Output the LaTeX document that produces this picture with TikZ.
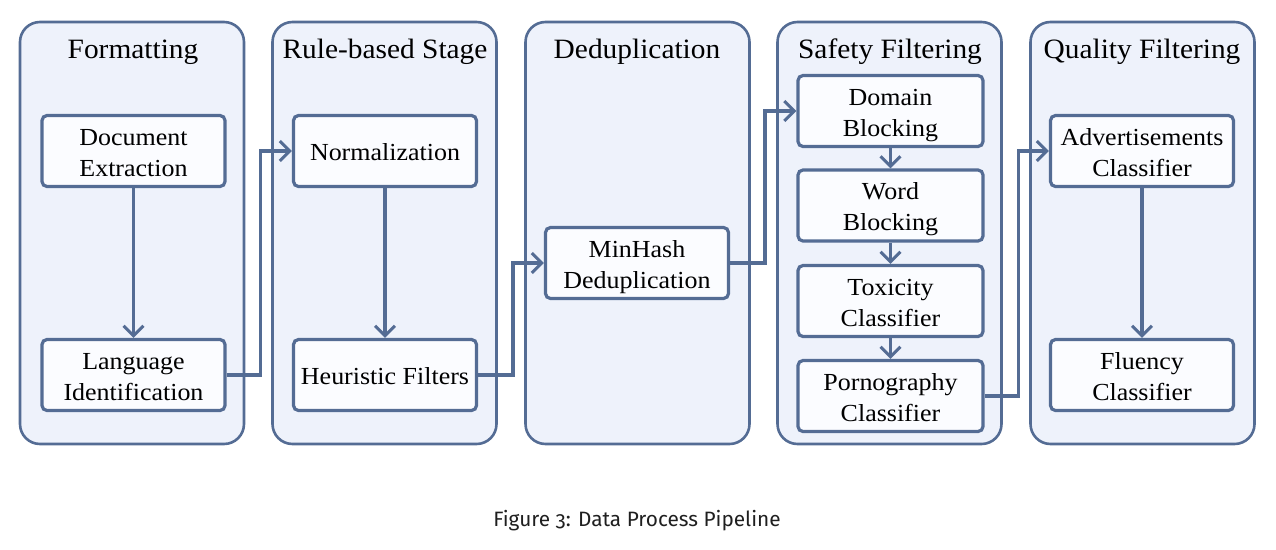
\documentclass[tikz,border=0pt]{standalone}
\usepackage{graphicx}
\usepackage{fontspec}
\setmainfont{Liberation Serif}
\newfontfamily\capfont[Numbers=OldStyle]{Fira Sans}
\usetikzlibrary{arrows.meta}
\definecolor{edge}{RGB}{84,108,148}
\definecolor{panelfill}{RGB}{238,242,251}
\definecolor{boxfill}{RGB}{251,252,255}
\newcommand\lbl[1]{\raisebox{-3.5pt}[\height][\depth]{\scalebox{1.06}[1]{\begin{tabular}{@{}c@{}}#1\end{tabular}}}}
\newcommand\ttl[1]{\scalebox{1.05}[1]{#1}}
\tikzset{
  panel/.style={draw=edge, line width=2.6pt, fill=panelfill, rounded corners=20pt,
    minimum width=224pt, minimum height=422pt, inner sep=0pt},
  stepbox/.style={draw=edge, line width=3.2pt, fill=boxfill, rounded corners=5pt,
    minimum width=183pt, minimum height=71pt, inner sep=0pt,
    font=\fontsize{24.5}{31}\selectfont},
  ptitle/.style={anchor=base, inner sep=0pt, font=\fontsize{28}{32}\selectfont},
  arr/.style={draw=edge, line width=3.3pt, -{Straight Barb[length=10pt,width=20pt,line width=3pt]}},
  link/.style={draw=edge, line width=3.3pt}
}
\begin{document}
\begin{tikzpicture}[x=1pt,y=-1pt]
\useasboundingbox (0,0) rectangle (1276,549);
% panels
\node[panel] (p1) at (132,233) {};
\node[panel] (p2) at (384.5,233) {};
\node[panel] (p3) at (637.5,233) {};
\node[panel] (p4) at (889.5,233) {};
\node[panel] (p5) at (1142.5,233) {};
\node[ptitle] (t1) at (133,58) {\ttl{Formatting}};
\node[ptitle] (t2) at (385,58) {\ttl{Rule-based Stage}};
\node[ptitle] (t3) at (637,58) {\ttl{Deduplication}};
\node[ptitle] (t4) at (890,58) {\ttl{Safety Filtering}};
\node[ptitle] (t5) at (1142,58) {\ttl{Quality Filtering}};
% boxes
\node[stepbox] (doc) at (133.5,151) {\lbl{Document\\Extraction}};
\node[stepbox] (lang) at (133.5,375) {\lbl{Language\\Identification}};
\node[stepbox] (norm) at (385,151) {\lbl{Normalization}};
\node[stepbox] (heur) at (385,375) {\lbl{Heuristic Filters}};
\node[stepbox] (minh) at (637,263) {\lbl{MinHash\\Deduplication}};
\node[stepbox, minimum width=185pt] (dom) at (890.5,111) {\lbl{Domain\\Blocking}};
\node[stepbox, minimum width=185pt] (word) at (890.5,205.5) {\lbl{Word\\Blocking}};
\node[stepbox, minimum width=185pt] (tox) at (890.5,301) {\lbl{Toxicity\\Classifier}};
\node[stepbox, minimum width=185pt] (porn) at (890.5,396) {\lbl{Pornography\\Classifier}};
\node[stepbox] (adv) at (1142,151) {\lbl{Advertisements\\Classifier}};
\node[stepbox] (flu) at (1142,375) {\lbl{Fluency\\Classifier}};
% connectors
\draw[arr] (doc) -- (lang);
\draw[arr] (norm) -- (heur);
\draw[arr] (adv) -- (flu);
\draw[arr] (dom) -- (word);
\draw[arr] (word) -- (tox);
\draw[arr] (tox) -- (porn);
\draw[arr] (lang.east) -- ++(34,0) |- (norm.west);
\draw[arr] (heur.east) -- ++(35,0) |- (minh.west);
\draw[arr] (minh.east) -- ++(35,0) |- (dom.west);
\draw[arr] (porn.east) -- ++(34,0) |- (adv.west);
% caption
\node[anchor=base, inner sep=0pt, font=\capfont\fontsize{20.8}{24}\selectfont, text=black!88] (cap) at (637,526) {Figure 3: Data Process Pipeline};
\end{tikzpicture}
\end{document}
